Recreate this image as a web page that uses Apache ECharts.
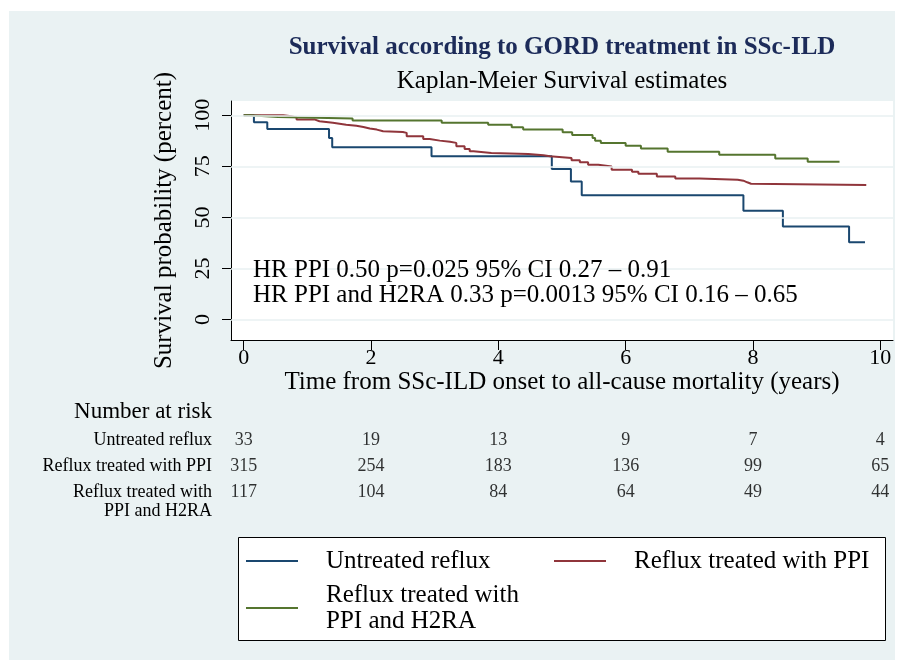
<!DOCTYPE html>
<html><head><meta charset="utf-8">
<script src="https://cdn.jsdelivr.net/npm/echarts@6/dist/echarts.min.js"></script>
<style>
html,body{margin:0;padding:0;background:#fff}
#bg{position:absolute;left:9px;top:11px;width:886px;height:649px;background:#eaf2f3}
#c{position:absolute;left:0;top:0;width:903px;height:666px}
</style>
</head><body><div id="bg"></div><div id="c"></div>
<script>
const seriesNames = ['Untreated reflux', 'Reflux treated with PPI', 'Reflux treated with PPI and H2RA'];
const legendLabels = ['Untreated reflux', 'Reflux treated with PPI', 'Reflux treated with\nPPI and H2RA'];
const riskRowLabels = ['Untreated reflux', 'Reflux treated with PPI', 'Reflux treated with\nPPI and H2RA'];

const untreatedTime = [0, 0.16, 0.37, 1.34, 1.39, 2.95, 4.84, 5.14, 5.31, 7.85, 8.47, 9.51, 9.76];
const untreatedSurv = [100, 96.6, 93.3, 88.9, 84.3, 79.9, 73.7, 67.6, 60.8, 53.3, 45.6, 37.9, 37.9];

const ppiTime = [0, 0.62, 0.75, 0.83, 1.12, 1.19, 1.40, 1.61, 1.77, 1.88, 1.98, 2.09, 2.19, 2.50, 2.56, 2.82, 2.92, 3.08, 3.24, 3.34, 3.47, 3.55, 3.61, 3.89, 4.47, 4.71, 4.81, 5.15, 5.28, 5.41, 5.57, 5.78, 6.10, 6.20, 6.49, 6.78, 7.16, 7.76, 7.85, 7.91, 7.97, 9.78];
const ppiSurv = [100, 99.5, 98.9, 97.9, 97.1, 96.3, 95.4, 94.9, 94.3, 93.5, 93.0, 92.2, 91.8, 91.4, 89.7, 88.4, 87.6, 87.0, 86.5, 84.8, 83.5, 82.4, 81.6, 81.1, 80.4, 79.9, 79.1, 78.0, 77.0, 75.8, 74.9, 73.4, 72.4, 71.4, 70.1, 69.1, 68.5, 68.0, 67.2, 66.5, 65.9, 65.9];

const h2raTime = [0, 0.09, 0.54, 1.71, 3.11, 3.84, 4.21, 4.39, 5.01, 5.16, 5.48, 5.52, 5.61, 6.00, 6.24, 6.66, 7.47, 8.35, 8.86, 9.36];
const h2raSurv = [100, 99.2, 98.4, 97.4, 96.4, 95.4, 94.1, 93.0, 91.7, 90.4, 88.9, 87.6, 86.5, 85.1, 83.7, 82.2, 80.7, 78.9, 77.3, 77.3];

const riskTimes = [0, 2, 4, 6, 8, 10];
const riskUntreated = [33, 19, 13, 9, 7, 4];
const riskPPI = [315, 254, 183, 136, 99, 65];
const riskPPIH2RA = [117, 104, 84, 64, 49, 44];

const xTicks = [0, 2, 4, 6, 8, 10];
const yTicks = [0, 25, 50, 75, 100];

const titleText = 'Survival according to GORD treatment in SSc-ILD';
const subtitleText = 'Kaplan-Meier Survival estimates';
const annotationLines = ['HR PPI 0.50 p=0.025 95% CI 0.27 \u2013 0.91', 'HR PPI and H2RA 0.33 p=0.0013 95% CI 0.16 \u2013 0.65'];
const xName = 'Time from SSc-ILD onset to all-cause mortality (years)';
const yName = 'Survival probability (percent)';
const riskHeader = 'Number at risk';

const FF = '"Liberation Serif", "Times New Roman", serif';
const colors = ['#1a476f', '#90353b', '#55752f'];

const zip = (a, b) => a.map((v, i) => [v, b[i]]);
const curves = [zip(untreatedTime, untreatedSurv), zip(ppiTime, ppiSurv), zip(h2raTime, h2raSurv)];
const riskRows = [riskUntreated, riskPPI, riskPPIH2RA];
const riskData = [];
riskRows.forEach((row, r) => row.forEach((n, i) => riskData.push([riskTimes[i], r, n])));

const chart = echarts.init(document.getElementById('c'), null, {renderer: 'canvas'});

const lineSeries = curves.map((d, i) => ({
  type: 'line', name: seriesNames[i], data: d, step: 'end',
  xAxisIndex: 0, yAxisIndex: 0,
  symbol: 'none', z: 3, color: colors[i],
  lineStyle: {color: colors[i], width: 2}
}));

const graphics = [
  {type: 'text', z: 10, x: 562, y: 48, style: {text: titleText, font: 'bold 25px ' + FF, fill: '#1c2b59', align: 'center', verticalAlign: 'middle'}},
  {type: 'text', z: 10, x: 562, y: 81, style: {text: subtitleText, font: '25px ' + FF, fill: '#000', align: 'center', verticalAlign: 'middle'}},
  {type: 'text', z: 10, x: 253, y: 270, style: {text: annotationLines[0], font: '25px ' + FF, fill: '#000', align: 'left', verticalAlign: 'middle'}},
  {type: 'text', z: 10, x: 253, y: 295, style: {text: annotationLines[1], font: '25px ' + FF, fill: '#000', align: 'left', verticalAlign: 'middle'}},
  {type: 'text', z: 10, x: 212, y: 412, style: {text: riskHeader, font: '23px ' + FF, fill: '#000', align: 'right', verticalAlign: 'middle'}},
  {type: 'rect', shape: {x: 238.5, y: 537.5, width: 647, height: 103}, style: {fill: '#fff', stroke: '#000', lineWidth: 1}, z: 0}
];
const rowY = [440, 466, 492];
riskRowLabels.forEach((lab, r) => {
  lab.split('\n').forEach((ln, k) => {
    graphics.push({type: 'text', z: 10, x: 212, y: rowY[r] + k * 19, style: {text: ln, font: '18px ' + FF, fill: '#000', align: 'right', verticalAlign: 'middle'}});
  });
});

const legendBase = {
  orient: 'horizontal', padding: 0, itemWidth: 52, itemHeight: 14, itemGap: 0,
  selectedMode: false, icon: 'path://M0,0 L52,0 L52,2 L0,2 Z',
  textStyle: {fontFamily: FF, fontSize: 25, color: '#000', lineHeight: 26, padding: [0, 0, 0, 23]}
};

const option = {
  backgroundColor: 'transparent',
  animation: false,
  color: colors,
  graphic: graphics,
  legend: [
    Object.assign({}, legendBase, {data: [seriesNames[0]], left: 246, top: 548}),
    Object.assign({}, legendBase, {data: [seriesNames[1]], left: 554, top: 548}),
    Object.assign({}, legendBase, {data: [seriesNames[2]], left: 246, top: 582, formatter: () => legendLabels[2]})
  ],
  grid: [
    {left: 231, top: 101, width: 662, height: 239, show: true, backgroundColor: '#fff', borderWidth: 0, containLabel: false},
    {left: 231, top: 427, width: 662, height: 78, show: false, containLabel: false}
  ],
  xAxis: [
    {type: 'value', gridIndex: 0, min: -0.2, max: 10.2,
      name: xName, nameLocation: 'middle', nameGap: 30,
      nameTextStyle: {fontFamily: FF, fontSize: 25, color: '#000'},
      axisLine: {show: true, onZero: false, lineStyle: {color: '#000', width: 1}},
      axisTick: {show: true, length: 10, customValues: xTicks, lineStyle: {color: '#000'}},
      axisLabel: {customValues: xTicks, margin: 7, fontFamily: FF, fontSize: 22, color: '#000'},
      splitLine: {show: false}},
    {type: 'value', gridIndex: 1, min: -0.2, max: 10.2, show: false}
  ],
  yAxis: [
    {type: 'value', gridIndex: 0, min: -10, max: 107,
      name: yName, nameLocation: 'middle', nameGap: 54, nameRotate: 90,
      nameTextStyle: {fontFamily: FF, fontSize: 25, color: '#000'},
      axisLine: {show: true, onZero: false, lineStyle: {color: '#000', width: 1}},
      axisTick: {show: true, length: 9, customValues: yTicks, lineStyle: {color: '#000'}},
      axisLabel: {customValues: yTicks, rotate: 90, margin: 17, fontFamily: FF, fontSize: 22, color: '#000'},
      splitLine: {show: false}},
    {type: 'value', gridIndex: 1, min: -0.5, max: 2.5, inverse: true, show: false}
  ],
  series: [
    {type: 'line', name: 'grid', data: [], xAxisIndex: 0, yAxisIndex: 0, z: 1, silent: true,
      markLine: {silent: true, symbol: ['none', 'none'], label: {show: false},
        lineStyle: {color: '#e8f0f2', type: 'solid', width: 1.5},
        data: yTicks.map(v => ({yAxis: v}))}},
    ...lineSeries,
    {type: 'scatter', name: 'risk', data: riskData, xAxisIndex: 1, yAxisIndex: 1,
      symbolSize: 1, itemStyle: {color: 'rgba(0,0,0,0)'}, silent: true,
      label: {show: true, position: 'inside', formatter: p => String(p.value[2]),
        fontFamily: FF, fontSize: 18, color: '#000'}}
  ]
};
chart.setOption(option);
</script>
</body></html>
